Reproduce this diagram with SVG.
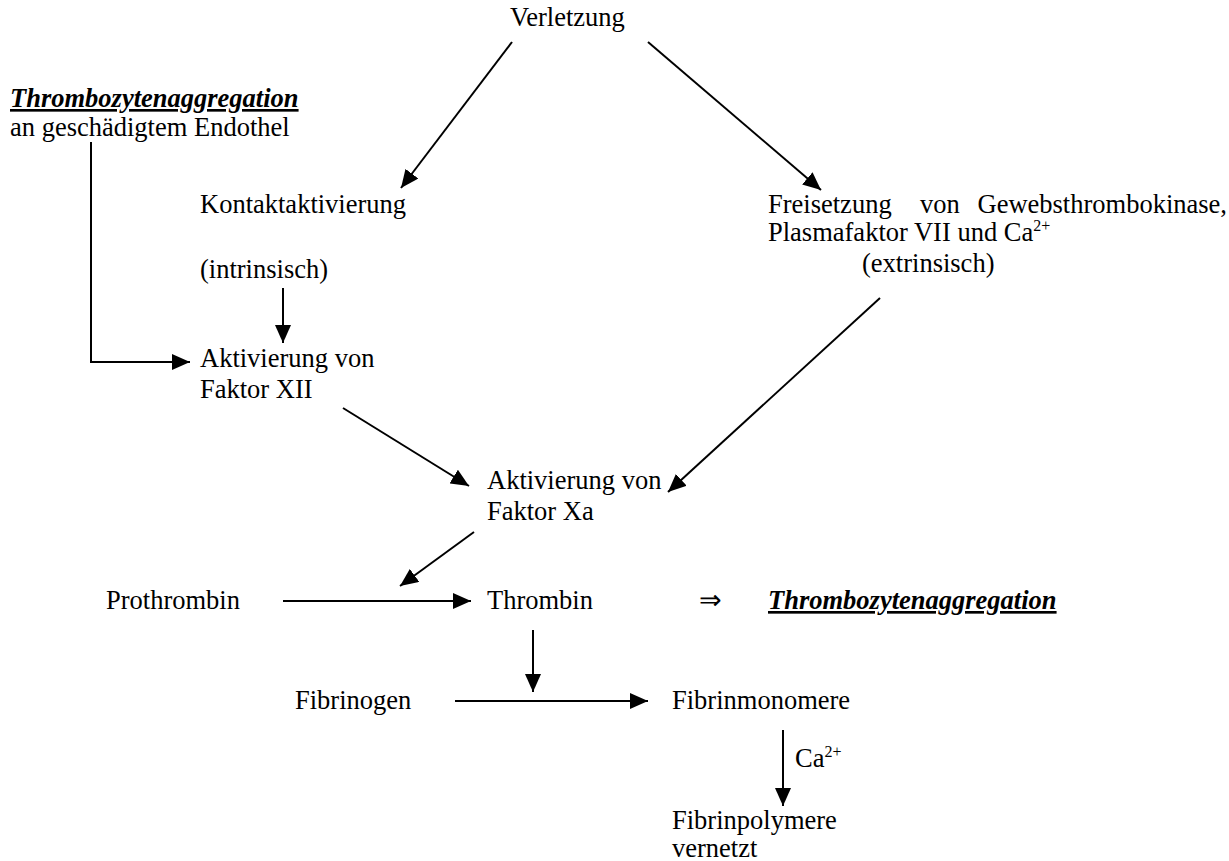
<svg xmlns="http://www.w3.org/2000/svg" width="1229" height="861" viewBox="0 0 1229 861">
<style>
text{font-family:"Liberation Serif","Times New Roman",serif;font-size:26.5px;fill:#000}
.bi{font-weight:bold;font-style:italic;text-decoration:underline}
.sup{font-size:16px}
#connectors line{stroke:#000;stroke-width:2;fill:none}
</style>
<defs>
<marker id="ah" markerUnits="userSpaceOnUse" markerWidth="20" markerHeight="16" refX="18" refY="8" orient="auto">
<path d="M0,0 L18,8 L0,16 Z" fill="#000"/>
</marker>
</defs>
<rect width="1229" height="861" fill="#fff"/>
<g id="connectors">
<line x1="512" y1="42" x2="401" y2="188" marker-end="url(#ah)"/>
<line x1="648" y1="42" x2="821" y2="190" marker-end="url(#ah)"/>
<polyline points="91,142 91,362 190,362" fill="none" stroke="#000" stroke-width="2" marker-end="url(#ah)"/>
<line x1="283" y1="288" x2="283" y2="343" marker-end="url(#ah)"/>
<line x1="343" y1="408" x2="469" y2="486" marker-end="url(#ah)"/>
<line x1="880" y1="298" x2="668" y2="492" marker-end="url(#ah)"/>
<line x1="474" y1="532" x2="400" y2="586" marker-end="url(#ah)"/>
<line x1="283" y1="601" x2="471" y2="601" marker-end="url(#ah)"/>
<line x1="533" y1="630" x2="533" y2="692" marker-end="url(#ah)"/>
<line x1="455" y1="701" x2="648" y2="701" marker-end="url(#ah)"/>
<line x1="783" y1="730" x2="783" y2="806" marker-end="url(#ah)"/>
</g>
<g id="verletzung"><text x="510" y="26">Verletzung</text></g>
<g id="thrombo-top"><text x="10" y="107" class="bi">Thrombozytenaggregation</text><text x="10" y="136">an geschädigtem Endothel</text></g>
<g id="kontakt"><text x="200" y="213">Kontaktaktivierung</text><text x="200" y="278">(intrinsisch)</text></g>
<g id="freisetzung"><text y="213"><tspan x="768">Freisetzung</tspan><tspan x="920">von</tspan><tspan x="1227" text-anchor="end">Gewebsthrombokinase,</tspan></text><text x="768" y="241">Plasmafaktor VII und Ca<tspan class="sup" dy="-10">2+</tspan></text><text x="862" y="272">(extrinsisch)</text></g>
<g id="faktor-xii"><text x="200" y="367">Aktivierung von</text><text x="200" y="398">Faktor XII</text></g>
<g id="faktor-xa"><text x="487" y="489">Aktivierung von</text><text x="487" y="520">Faktor Xa</text></g>
<g id="prothrombin"><text x="106" y="609">Prothrombin</text></g>
<g id="thrombin"><text x="487" y="609">Thrombin</text></g>
<g id="implies"><text x="699" y="609">⇒</text></g>
<g id="thrombo-right"><text x="768" y="609" class="bi">Thrombozytenaggregation</text></g>
<g id="fibrinogen"><text x="295" y="709">Fibrinogen</text></g>
<g id="fibrinmonomere"><text x="672" y="709">Fibrinmonomere</text></g>
<g id="ca"><text x="795" y="767">Ca<tspan class="sup" dy="-10">2+</tspan></text></g>
<g id="fibrinpolymere"><text x="672" y="829">Fibrinpolymere</text><text x="672" y="857">vernetzt</text></g>
</svg>
